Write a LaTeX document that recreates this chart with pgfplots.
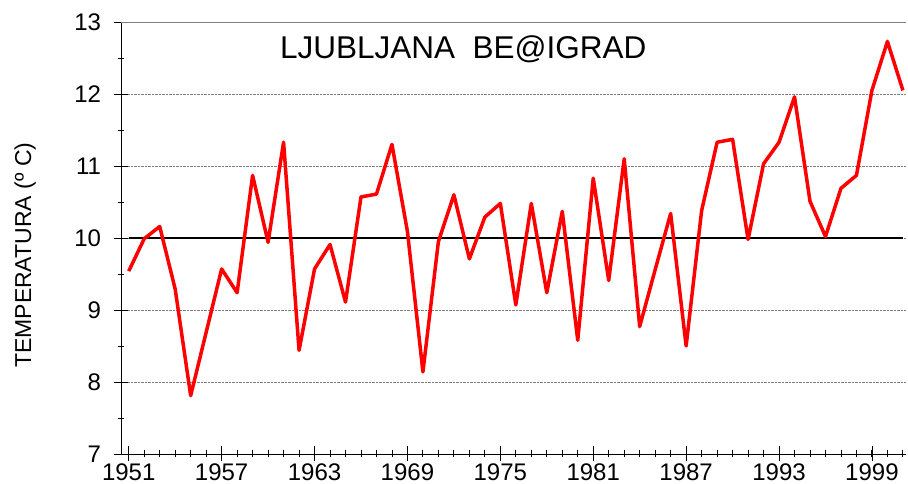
\documentclass[border=0pt]{standalone}
\usepackage{pgfplots}
\pgfplotsset{compat=1.18}
\usepackage{fontspec}
\setmainfont{Liberation Sans}
\begin{document}
\begin{tikzpicture}
\useasboundingbox (0,0) rectangle (908pt,484pt);
\begin{axis}[
  at={(121pt,30pt)}, anchor=south west,
  scale only axis, width=785pt, height=432pt,
  xmin=1950.5, xmax=2001.2, ymin=7, ymax=13,
  axis x line*=bottom, axis y line*=left,
  axis line style={-, black, line width=0.8pt},
  xtick={1951,1957,...,1999},
  minor xtick={1951,...,2001},
  ytick={7,...,13},
  minor ytick={7.5,8.5,...,12.5},
  tick align=center,
  major tick length=15pt, minor tick length=7pt,
  x tick style={black, line width=0.8pt},
  y tick style={black, line width=0.8pt},
  minor x tick style={/pgfplots/major tick length=15pt},
  ymajorgrids,
  major grid style={densely dotted, gray, line width=0.6pt},
  /pgf/number format/assume math mode=true,
  /pgf/number format/1000 sep={},
  tick label style={font=\fontsize{24}{24}\selectfont},
  yticklabel style={xshift=-9pt},
  xticklabel style={inner sep=0pt, yshift=-2pt},
  ylabel={TEMPERATURA (º C)},
  ylabel style={at={(axis description cs:-0.122,0.46)}, anchor=center, font=\fontsize{23}{23}\selectfont},
  clip=false,
]
\draw[gray, line width=0.8pt] (rel axis cs:0,1) -- (rel axis cs:1,1);
\addplot[black, line width=2.2pt] coordinates {(1951,10) (2001,10)};
\addplot[red, line width=3.5pt, line join=round] coordinates {
(1951,9.54) (1952,9.99) (1953,10.16) (1954,9.29) (1955,7.81)
(1956,8.69) (1957,9.57) (1958,9.24) (1959,10.87) (1960,9.94)
(1961,11.33) (1962,8.44) (1963,9.57) (1964,9.91) (1965,9.11)
(1966,10.57) (1967,10.61) (1968,11.30) (1969,10.09) (1970,8.14)
(1971,9.95) (1972,10.60) (1973,9.71) (1974,10.29) (1975,10.48)
(1976,9.07) (1977,10.48) (1978,9.24) (1979,10.37) (1980,8.58)
(1981,10.83) (1982,9.41) (1983,11.10) (1984,8.77) (1985,9.56)
(1986,10.34) (1987,8.50) (1988,10.38) (1989,11.33) (1990,11.37)
(1991,9.98) (1992,11.03) (1993,11.33) (1994,11.96) (1995,10.51)
(1996,10.02) (1997,10.69) (1998,10.87) (1999,12.05) (2000,12.73)
(2001,12.05)};
\node[font=\fontsize{31.5}{31.5}\selectfont] at (axis cs:1972.6,12.62) {LJUBLJANA\ \ BE@IGRAD};
\end{axis}
\end{tikzpicture}
\end{document}
